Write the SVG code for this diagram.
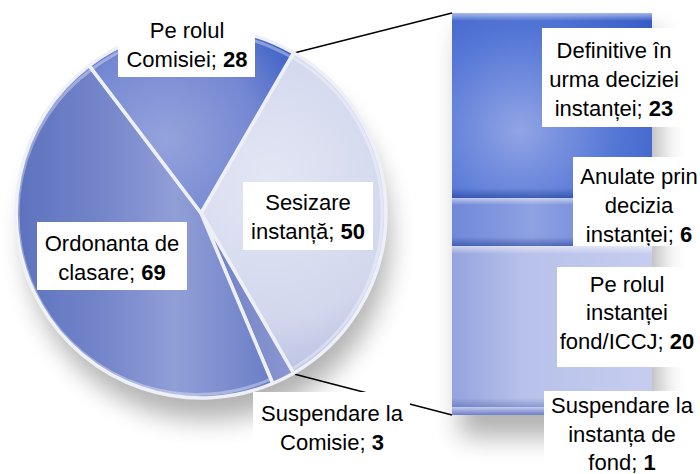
<svg xmlns="http://www.w3.org/2000/svg" width="700" height="474" viewBox="0 0 700 474">
<style>
  .lbl { font-family: "Liberation Sans", Arial, sans-serif; font-size: 22px; fill: #000; text-anchor: middle; }
  .num { font-weight: bold; }
  .box { fill: #fff; }
  .gap { stroke: #eef0f7; stroke-width: 3.5; stroke-linejoin: round; }
  .rim { fill: none; stroke: #ffffff; stroke-opacity: 0.35; stroke-width: 3; }
  .conn { stroke: #000; stroke-width: 1.4; fill: none; }
</style>
<defs>
  <filter id="blur" x="-30%" y="-30%" width="160%" height="160%">
    <feGaussianBlur stdDeviation="13"/>
  </filter>
  <radialGradient id="gPe" cx="165" cy="140" r="170" gradientUnits="userSpaceOnUse">
    <stop offset="0" stop-color="#95a3dc"/>
    <stop offset="0.55" stop-color="#7487d2"/>
    <stop offset="1" stop-color="#2f58c3"/>
  </radialGradient>
  <linearGradient id="gOrd" x1="16" y1="0" x2="272" y2="0" gradientUnits="userSpaceOnUse">
    <stop offset="0" stop-color="#5d72bf"/>
    <stop offset="0.35" stop-color="#7586ca"/>
    <stop offset="0.62" stop-color="#919fd7"/>
    <stop offset="1" stop-color="#6b7ec6"/>
  </linearGradient>
  <radialGradient id="gSes" cx="270" cy="180" r="200" gradientUnits="userSpaceOnUse">
    <stop offset="0" stop-color="#e3e6f4"/>
    <stop offset="0.7" stop-color="#d2d7ed"/>
    <stop offset="1" stop-color="#b9c0e2"/>
  </radialGradient>
  <linearGradient id="gSusp" x1="0" y1="0" x2="1" y2="0">
    <stop offset="0" stop-color="#6f7ec3"/>
    <stop offset="1" stop-color="#8a97d2"/>
  </linearGradient>
  <radialGradient id="gDef" cx="520" cy="130" r="190" gradientUnits="userSpaceOnUse">
    <stop offset="0" stop-color="#91a4e5"/>
    <stop offset="0.5" stop-color="#5577d6"/>
    <stop offset="1" stop-color="#2e56c2"/>
  </radialGradient>
  <linearGradient id="gAn" x1="0" y1="0" x2="1" y2="0">
    <stop offset="0" stop-color="#6f88d9"/>
    <stop offset="0.4" stop-color="#8ea1e2"/>
    <stop offset="1" stop-color="#5f7bd4"/>
  </linearGradient>
  <linearGradient id="gPr" x1="0" y1="0" x2="1" y2="0">
    <stop offset="0" stop-color="#95a3dd"/>
    <stop offset="0.35" stop-color="#b7c1ea"/>
    <stop offset="1" stop-color="#c6cdef"/>
  </linearGradient>
  <linearGradient id="gSi" x1="0" y1="0" x2="0" y2="1">
    <stop offset="0" stop-color="#c3cbee"/>
    <stop offset="1" stop-color="#6d7ec6"/>
  </linearGradient>
  <linearGradient id="topHi" x1="0" y1="0" x2="0" y2="1">
    <stop offset="0" stop-color="#ffffff" stop-opacity="0.55"/>
    <stop offset="1" stop-color="#ffffff" stop-opacity="0"/>
  </linearGradient>
  <linearGradient id="botDk" x1="0" y1="0" x2="0" y2="1">
    <stop offset="0" stop-color="#0a2a80" stop-opacity="0"/>
    <stop offset="1" stop-color="#0a2a80" stop-opacity="0.45"/>
  </linearGradient>
</defs>

<!-- soft shadows -->
<g id="shadows" fill="#000" opacity="0.3" filter="url(#blur)">
  <circle cx="208" cy="238" r="182"/>
  <rect x="460" y="32" width="200" height="405"/>
</g>

<!-- connectors -->
<g id="connectors">
  <line class="conn" x1="294" y1="53" x2="452" y2="13"/>
  <line class="conn" x1="294" y1="374" x2="452" y2="415"/>
</g>

<!-- pie slices -->
<g id="slice-sesizare">
  <path class="gap" fill="url(#gSes)" d="M201,213 L293.5,52.8 A185,185 0 0 1 293.5,373.2 Z"/>
  <path class="rim" d="M292,57 A180,180 0 0 1 292,369"/>
  <rect class="box" x="243" y="182" width="130" height="68"/>
  <text class="lbl" x="308" y="210">Sesizare</text>
  <text class="lbl" x="308" y="239">instanță; <tspan class="num">50</tspan></text>
</g>
<g id="slice-suspendare-comisie">
  <path class="gap" fill="url(#gSusp)" d="M201,213 L293.5,373.2 A185,185 0 0 1 272.7,383.5 Z"/>
</g>
<g id="slice-ordonanta">
  <path class="gap" fill="url(#gOrd)" d="M201,213 L272.7,383.5 A185,185 0 0 1 89.2,65.6 Z"/>
  <path class="rim" d="M271,379 A180,180 0 0 1 92,69"/>
  <rect class="box" x="37" y="222" width="150" height="68"/>
  <text class="lbl" x="112" y="251">Ordonanta de</text>
  <text class="lbl" x="112" y="280">clasare; <tspan class="num">69</tspan></text>
</g>
<g id="slice-pe-rolul-comisiei">
  <path class="gap" fill="url(#gPe)" d="M201,213 L89.2,65.6 A185,185 0 0 1 293.5,52.8 Z"/>
  <path class="rim" d="M92,69 A180,180 0 0 1 291,57"/>
  <rect class="box" x="118" y="12" width="137" height="65"/>
  <text class="lbl" x="187" y="38">Pe rolul</text>
  <text class="lbl" x="187" y="67">Comisiei; <tspan class="num">28</tspan></text>
</g>

<!-- label for small slice -->
<g id="label-suspendare-comisie">
  <rect class="box" x="253" y="392" width="157" height="68"/>
  <text class="lbl" x="332" y="421">Suspendare la</text>
  <text class="lbl" x="332" y="450">Comisie; <tspan class="num">3</tspan></text>
</g>

<!-- bar of pie -->
<g id="bar-definitive">
  <rect x="452" y="13" width="200" height="185" fill="url(#gDef)"/>
  <rect x="452" y="13" width="200" height="8" fill="url(#topHi)"/>
  <rect x="452" y="188" width="200" height="10" fill="url(#botDk)"/>
  <rect class="box" x="542" y="28" width="145" height="99"/>
  <text class="lbl" x="614" y="58">Definitive în</text>
  <text class="lbl" x="614" y="87">urma deciziei</text>
  <text class="lbl" x="614" y="116">instanței; <tspan class="num">23</tspan></text>
</g>
<g id="bar-anulate">
  <rect x="452" y="198" width="200" height="48" fill="url(#gAn)"/>
  <rect x="452" y="198" width="200" height="7" fill="url(#topHi)"/>
  <rect x="452" y="237" width="200" height="9" fill="url(#botDk)"/>
  <rect class="box" x="573" y="157" width="127" height="89"/>
  <text class="lbl" x="639" y="184">Anulate prin</text>
  <text class="lbl" x="639" y="213">decizia</text>
  <text class="lbl" x="639" y="242">instanței; <tspan class="num">6</tspan></text>
</g>
<g id="bar-pe-rolul-instantei">
  <rect x="452" y="246" width="200" height="161" fill="url(#gPr)"/>
  <rect x="452" y="246" width="200" height="8" fill="url(#topHi)"/>
  <rect x="452" y="398" width="200" height="9" fill="url(#botDk)" opacity="0.6"/>
  <rect class="box" x="557" y="267" width="143" height="100"/>
  <text class="lbl" x="627" y="292">Pe rolul</text>
  <text class="lbl" x="627" y="320">instanței</text>
  <text class="lbl" x="627" y="349">fond/ICCJ; <tspan class="num">20</tspan></text>
</g>
<g id="bar-suspendare-instanta">
  <rect x="452" y="407" width="200" height="8" fill="url(#gSi)"/>
  <rect class="box" x="544" y="391" width="156" height="83"/>
  <text class="lbl" x="622" y="413">Suspendare la</text>
  <text class="lbl" x="622" y="442">instanța de</text>
  <text class="lbl" x="622" y="470">fond; <tspan class="num">1</tspan></text>
</g>
</svg>
